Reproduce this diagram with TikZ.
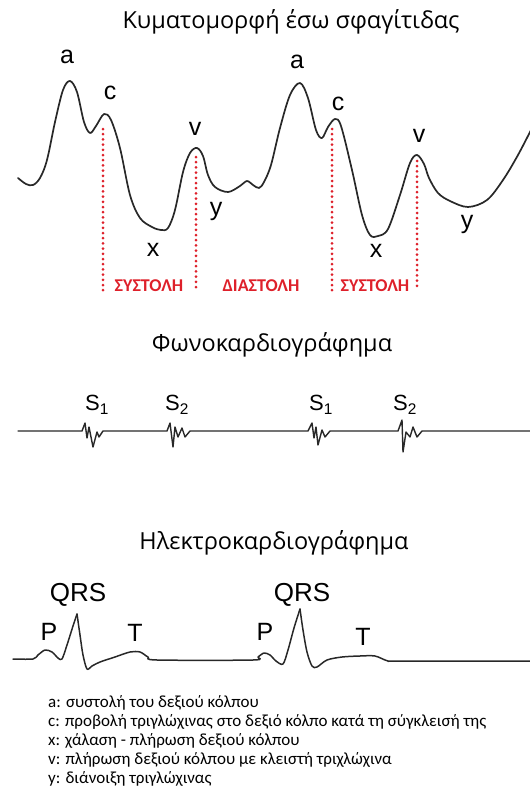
\documentclass[tikz,border=0pt]{standalone}
\usepackage{fontspec}
\setmainfont{Carlito}
\newfontfamily\titlefont{Open Sans}
\newfontfamily\markfont{Liberation Sans}
\definecolor{phasered}{RGB}{222,32,42}
\definecolor{inkgray}{RGB}{40,40,40}

\begin{document}
\begin{tikzpicture}[x=1pt, y=-1pt,
  trace/.style={inkgray, line width=1.7pt, line join=round, line cap=round},
  heading/.style={font=\titlefont\fontsize{23.5}{26}\selectfont},
  wavelbl/.style={font=\markfont\fontsize{25}{28}\selectfont, inner sep=0pt},
  heartlbl/.style={font=\markfont\fontsize{22}{24}\selectfont, inner sep=0pt},
  phaselbl/.style={phasered, font=\bfseries\fontsize{18}{20}\selectfont, inner sep=0pt},
  phaseline/.style={phasered, line width=3pt, line cap=round, dash pattern=on 0pt off 5.2pt},
  legendline/.style={anchor=west, font=\fontsize{17}{19}\selectfont, inner sep=0pt}]
  \useasboundingbox (0,0) rectangle (530,798);

  % jugular venous pulse
  \node[heading] (jvptitle) at (291,22) {Κυματομορφή έσω σφαγίτιδας};
  \draw[trace] plot[smooth, tension=0.55] coordinates {
    (18,178) (26,184) (33,185) (40,178) (47,160) (55,122) (63,90) (70,81)
    (77,92) (84,122) (90,133) (96,126) (104,114) (111,120) (120,148) (130,195)
    (140,218) (152,227) (161,230) (168,228) (175,210) (183,172) (190,153) (197,148)
    (203,156) (208,175) (215,187) (228,192) (240,186) (247,181) (253,185) (259,188)
    (264,182) (271,165) (280,128) (290,95) (300,83) (308,98) (316,130) (322,138)
    (328,127) (335,119) (341,126) (352,170) (362,215) (370,235) (378,236) (388,229)
    (400,195) (410,163) (417,155) (424,164) (429,178) (438,193) (450,201) (468,207)
    (487,200) (503,180) (518,155) (532,128)};
  \node[wavelbl] (a1) at (67,57) {a};
  \node[wavelbl] (c1) at (110,93) {c};
  \node[wavelbl] (x1) at (153,250) {x};
  \node[wavelbl] (v1) at (195,129) {v};
  \node[wavelbl] (y1) at (216,211) {y};
  \node[wavelbl] (a2) at (297,62) {a};
  \node[wavelbl] (c2) at (338,104) {c};
  \node[wavelbl] (x2) at (376,251) {x};
  \node[wavelbl] (v2) at (419,136) {v};
  \node[wavelbl] (y2) at (467,224) {y};
  % systole / diastole markers
  \draw[phaseline] (103,129) -- (103,291);
  \draw[phaseline] (196,157) -- (196,291);
  \draw[phaseline] (332,129) -- (332,291);
  \draw[phaseline] (417,161) -- (417,287);
  \node[phaselbl] (sys1) at (149,286) {ΣΥΣΤΟΛΗ};
  \node[phaselbl] (dia1) at (261,286) {ΔΙΑΣΤΟΛΗ};
  \node[phaselbl] (sys2) at (375,286) {ΣΥΣΤΟΛΗ};

  % phonocardiogram
  \node[heading] (pcgtitle) at (272,345) {Φωνοκαρδιογράφημα};
  \draw[trace, line width=1.4pt] (18,431) -- (82,431)
    -- (85,423) -- (87,438) -- (89,427) -- (93,447) -- (97,432) -- (99,437) -- (103,431)
    -- (167,431) -- (170,423) -- (173,447) -- (175,427) -- (178,437) -- (182,428)
    -- (185,437) -- (190,431)
    -- (308,431) -- (312,423) -- (314,438) -- (316,427) -- (318,445) -- (322,430)
    -- (325,437) -- (330,431)
    -- (398,431) -- (402,420) -- (403,452) -- (406,432) -- (410,437) -- (413,427)
    -- (417,437) -- (422,431) -- (530,431);
  \node[heartlbl] (s1a) at (97,405) {S\textsubscript{1}};
  \node[heartlbl] (s2a) at (177,405) {S\textsubscript{2}};
  \node[heartlbl] (s1b) at (321,405) {S\textsubscript{1}};
  \node[heartlbl] (s2b) at (405,405) {S\textsubscript{2}};

  % electrocardiogram
  \node[heading] (ecgtitle) at (274,543) {Ηλεκτροκαρδιογράφημα};
  \draw[trace, line width=1.5pt] plot[smooth, tension=0.5] coordinates {
    (13,659) (33,659) (38,655) (45,650) (52,652) (58,658) (62,659) (67,645) (73,626) (77,614)};
  \draw[trace, line width=1.5pt] plot[smooth, tension=0.5] coordinates {
    (77,614) (80,635) (83,655) (87,669) (92,666) (100,662) (115,657) (130,652)
    (140,652) (148,657) (157,660) (253,660) (258,657) (264,653) (270,655) (276,661)
    (283,664) (288,650) (294,628) (300,609)};
  \draw[trace, line width=1.5pt] plot[smooth, tension=0.5] coordinates {
    (300,609) (303,630) (307,652) (312,666) (317,667) (327,660) (342,657) (360,656)
    (375,656) (388,661) (400,661) (530,661)};
  \node[wavelbl, font=\markfont\fontsize{26}{28}\selectfont] (qrs1) at (78,595) {QRS};
  \node[wavelbl] (p1) at (49,632) {P};
  \node[wavelbl] (t1) at (135,633) {T};
  \node[wavelbl, font=\markfont\fontsize{26}{28}\selectfont] (qrs2) at (302,595) {QRS};
  \node[wavelbl] (p2) at (265,632) {P};
  \node[wavelbl] (t2) at (363,637) {T};

  % legend
  \node[legendline] (lega) at (48,703) {a: συστολή του δεξιού κόλπου};
  \node[legendline] (legc) at (48,722) {c: προβολή τριγλώχινας στο δεξιό κόλπο κατά τη σύγκλεισή της};
  \node[legendline] (legx) at (48,741) {x: χάλαση - πλήρωση δεξιού κόλπου};
  \node[legendline] (legv) at (48,760) {v: πλήρωση δεξιού κόλπου με κλειστή τριχλώχινα};
  \node[legendline] (legy) at (48,779) {y: διάνοιξη τριγλώχινας};
\end{tikzpicture}
\end{document}
